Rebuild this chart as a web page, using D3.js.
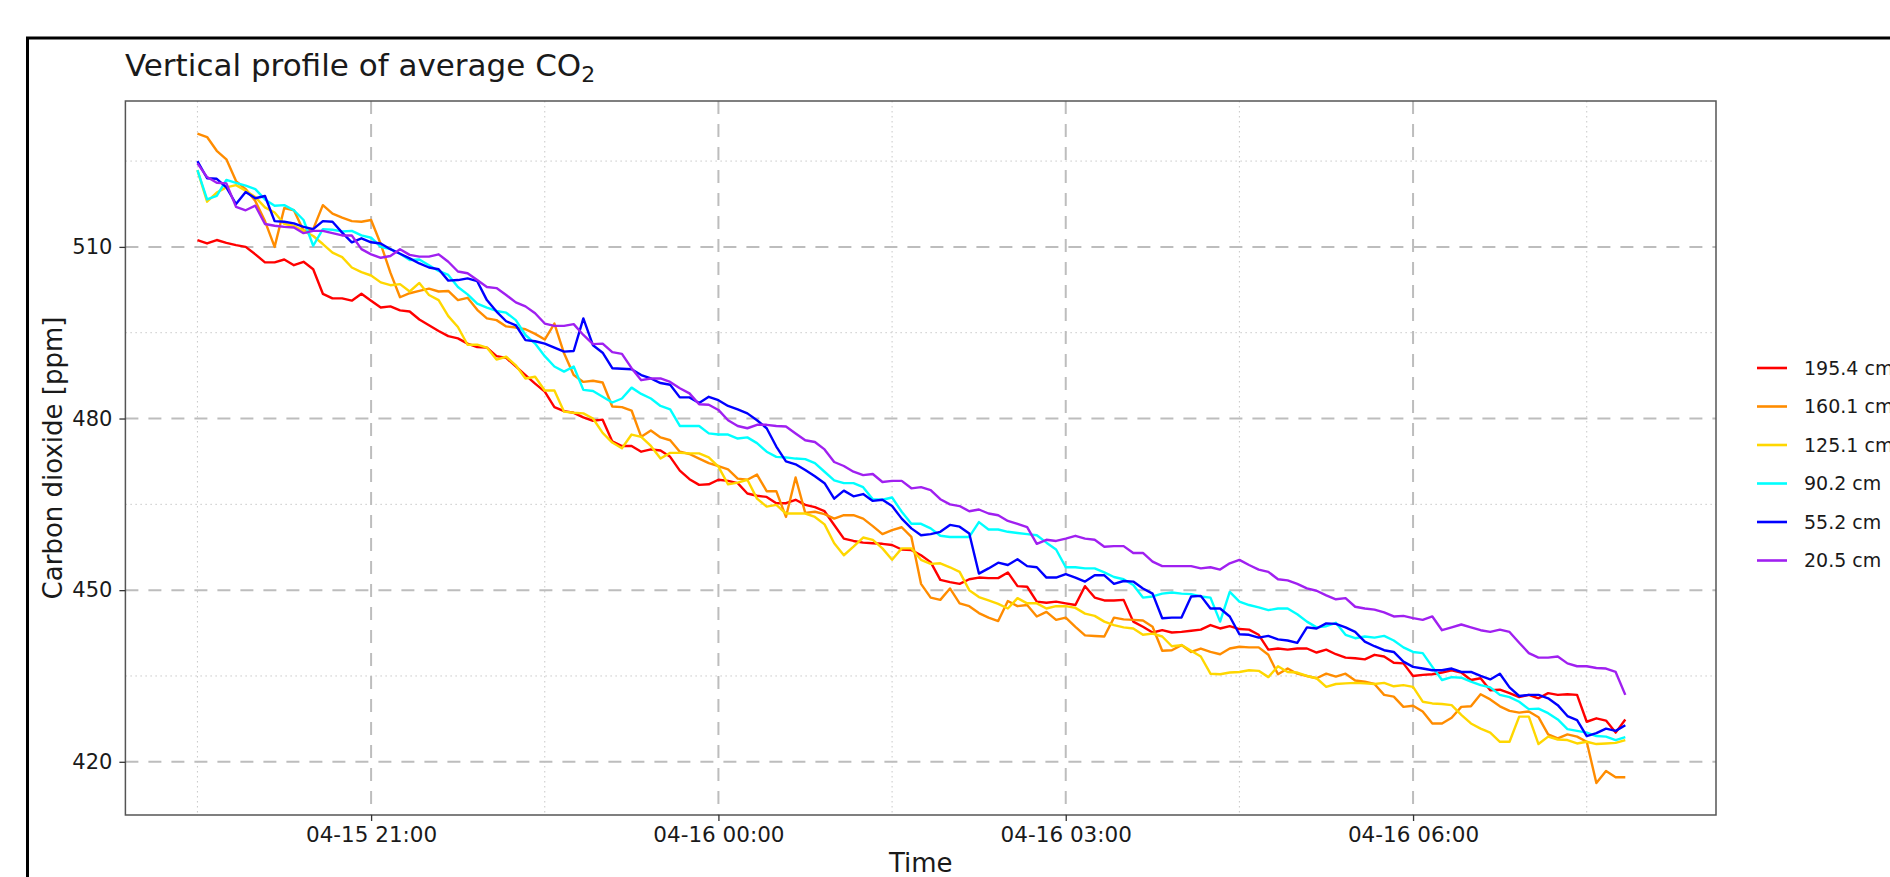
<!DOCTYPE html>
<html>
<head>
<meta charset="utf-8">
<script src="https://cdn.jsdelivr.net/npm/d3@7"></script>
<style>
  body { margin: 0; background: #fff; }
  text { font-family: "DejaVu Sans", sans-serif; fill: #1a1a1a; }
</style>
</head>
<body>
<script>
//series labels and colours (legend order)
var seriesNames = ["195.4 cm", "160.1 cm", "125.1 cm", "90.2 cm", "55.2 cm", "20.5 cm"];
var seriesColors = ["#ff0000", "#ff8c00", "#ffd700", "#00ffff", "#0000ff", "#a020f0"];

//first sample and sampling step (minutes)
var startTime = "2024-04-15T19:30:00Z";
var stepMinutes = 5;

//CO2 [ppm], one value every 5 minutes
var co2_195 = [511.2, 510.6, 511.2, 510.7, 510.3, 510.0, 508.7, 507.3, 507.3, 507.8, 506.8, 507.4, 506.1, 501.8, 501.0, 501.0, 500.6, 501.8, 500.6, 499.4, 499.6, 498.9,
    498.7, 497.3, 496.3, 495.3, 494.4, 494.0, 493.1, 492.5, 492.4, 490.9, 490.6, 489.1, 487.6, 486.1, 484.7, 482.0, 481.3, 481.0, 480.2, 479.6, 479.8, 476.0,
    475.2, 475.2, 474.2, 474.6, 474.4, 473.3, 470.9, 469.4, 468.4, 468.5, 469.3, 469.1, 468.7, 466.9, 466.5, 466.3, 465.2, 465.2, 465.8, 464.9, 464.5,
    463.8,
    461.4, 459.0, 458.6, 458.3, 458.2, 458.1, 457.9, 457.1, 457.0, 456.1, 454.9, 451.8,
    451.4, 451.1, 451.9, 452.2, 452.1, 452.1, 453.1, 450.7, 450.6,
    448.0, 447.8, 448.0, 447.7, 447.4, 450.7, 448.7, 448.2, 448.2, 448.3, 444.5, 443.6, 442.6, 443.0, 442.6, 442.7, 442.9, 443.1, 443.9, 443.3, 443.7, 443.2,
    443.1, 442.2, 439.6, 439.8, 439.6, 439.8, 439.8, 439.1, 439.6, 438.8, 438.2, 438.1, 437.9, 438.7, 438.4, 437.3, 437.2, 435.0, 435.2, 435.3, 435.6, 436.0,
    435.6, 434.3, 434.6, 432.5, 432.6, 432.0, 431.3, 431.7, 431.1, 432.0, 431.7, 431.8, 431.7, 427.0, 427.6, 427.2, 425.1, 427.4];

var co2_160 = [529.8, 529.2, 526.8, 525.3, 521.5, 520.1, 518.0, 514.5, 510.0, 516.8, 516.4, 512.8, 513.1, 517.3, 515.8, 515.1, 514.5, 514.4, 514.7,
    510.5, 505.5,
    501.2,
    501.9, 502.3, 502.7, 502.2, 502.3, 500.7, 501.1, 499.0, 497.5, 497.2, 496.1, 495.9, 495.6, 494.8, 493.8, 496.6, 491.4, 487.6, 486.4, 486.6, 486.3, 482.1,
    482.0, 481.4, 476.8, 477.9, 476.7, 476.2, 474.2, 473.8, 473.0, 472.2, 471.7, 471.1, 469.5, 469.3, 470.2, 467.3, 467.3, 462.8, 469.7, 463.5, 463.7,
    463.3,
    462.5, 463.1, 463.1, 462.5, 461.2, 459.8, 460.5, 461.0, 459.3, 451.1, 448.7, 448.3, 450.3,
    447.7, 447.2, 446.0, 445.2, 444.6, 448.1, 447.2, 447.4,
    445.4, 446.2, 444.8, 445.2, 443.6, 442.1, 442.0, 441.9, 445.2, 444.9, 444.8, 444.7, 443.6, 439.4, 439.5, 440.4, 439.2, 439.8, 439.2, 438.8, 439.8, 440.1,
    440.0, 440.0, 438.7, 435.3, 436.3, 435.4, 435.0, 434.6, 435.4, 434.9, 435.4, 434.2, 434.0, 433.6, 431.7, 431.4, 429.6, 429.8, 428.8, 426.7, 426.7, 427.7,
    429.6, 429.7, 431.8, 430.9, 429.7, 428.9, 428.6, 428.8, 427.8, 424.8, 424.1, 424.8, 424.4, 423.5, 416.3, 418.4, 417.3, 417.3];

var co2_125 = [523.4, 517.9, 519.5, 520.4, 520.8, 519.8, 518.7, 516.9, 516.0, 514.0, 513.7, 512.8, 511.9, 510.5, 509.0, 508.2, 506.4, 505.6, 505.0, 503.8, 503.3,
    503.5,
    502.2, 503.7, 501.6, 500.7, 497.9, 496.0, 492.9, 492.9, 492.4, 490.3, 490.8, 489.3, 487.0, 487.3, 484.9, 484.9, 481.2, 481.0, 480.9, 480.0, 477.5, 475.8,
    474.8, 477.2, 476.8, 475.2, 473.0, 474.0, 474.0, 473.9, 473.9, 473.2, 471.6, 468.5, 468.8, 469.3, 466.0, 464.6, 464.9, 463.4, 463.4, 463.4, 462.8,
    461.5,
    458.2, 456.1, 457.6, 459.2, 458.8, 457.3, 455.3, 457.3, 457.3, 455.3, 454.6, 454.7,
    454.0, 453.2, 450.0, 448.8, 448.2, 447.6, 446.8, 448.6, 447.7, 447.7,
    446.8, 447.2, 447.2, 446.9, 445.9, 445.5, 444.5, 443.9, 443.5, 443.3, 442.2, 442.4, 441.9, 440.2, 440.4, 439.4, 438.4, 435.4, 435.3, 435.6, 435.7,
    436.0, 435.9, 434.8, 436.7, 435.7, 435.6, 435.0, 434.6, 433.1, 433.6, 433.7, 433.8, 433.7, 433.6, 433.8, 433.2, 433.4, 433.1, 430.5, 430.2, 430.1, 429.9,
    428.2, 426.7, 425.8, 425.1, 423.5, 423.5, 427.9, 427.9, 423.1, 424.4, 423.9, 423.8, 423.2, 423.5, 423.1, 423.2, 423.3, 423.8];

var co2_90 = [523.4, 518.3, 518.9, 521.7, 521.2, 520.7, 520.1, 518.3, 517.2, 517.3, 516.4, 514.7, 510.2, 513.1, 513.0, 512.7, 512.8, 512.0, 511.6, 510.0, 509.6, 508.8,
    507.7, 507.8, 506.8, 505.8, 505.1, 503.0, 501.7, 500.1, 499.4, 498.8, 498.5, 497.2, 494.6, 493.1, 490.9, 489.1, 488.2, 489.1, 485.0, 484.8, 483.8, 482.8,
    483.5, 485.4, 484.3, 483.5, 482.2, 481.6, 478.7, 478.7, 478.7, 477.4, 477.2, 477.2, 476.5, 476.7, 475.7, 474.2, 473.3, 473.2, 473.0, 472.9, 472.2,
    470.7,
    469.2, 468.7, 468.7, 468.0, 465.9, 465.8, 466.2, 463.7, 461.6, 461.6, 460.8, 459.5, 459.3, 459.3, 459.3, 461.9, 460.6, 460.6, 460.2, 460.0, 459.8,
    459.6, 458.3, 457.1, 454.0, 454.0, 453.8, 453.8, 453.1, 452.3, 451.9, 450.9, 448.7, 448.9, 449.4, 449.6, 449.4, 449.3, 448.9, 448.7, 444.5, 449.7, 448.0,
    447.4, 447.0, 446.5, 446.8, 446.8, 445.8, 444.5, 443.5, 443.7, 444.3, 442.2, 441.6, 441.9, 441.7, 442.0, 441.2, 440.0, 439.2, 439.0, 436.6, 434.3, 434.8,
    434.7, 434.0, 433.4, 433.0, 431.7, 431.3, 430.5, 429.2, 429.3, 428.5, 427.4, 425.7, 425.4, 425.1, 424.5, 424.4, 423.8, 424.3];

var co2_55 = [525.0, 522.0, 521.9, 520.4, 517.5, 519.6, 518.5, 518.9, 514.5, 514.4, 514.1, 513.5, 513.1, 514.5, 514.4, 512.5, 510.8, 511.5, 510.8, 510.6, 509.6, 508.8,
    508.0, 507.1, 506.4, 506.1, 504.1, 504.2, 504.5, 504.0, 500.7, 498.7, 497.0, 496.3, 493.7, 493.5, 493.1, 492.4, 491.7, 491.8, 497.5, 492.8, 491.5, 488.8,
    488.7, 488.6, 487.6, 487.0, 486.2, 485.9, 483.7, 483.7, 482.7, 483.8, 483.2, 482.2, 481.6, 480.9, 479.7, 478.3, 475.1, 472.5, 472.0, 471.0, 469.9,
    468.7,
    466.0, 467.4, 466.4, 466.8, 465.6, 465.8, 464.7, 462.5, 460.8, 459.6, 459.8, 460.2, 461.4, 461.1, 459.9, 452.9, 453.8, 454.8, 454.4, 455.4, 454.2,
    454.0, 452.2, 452.2, 452.8, 452.2, 451.5, 452.6, 452.6, 451.1, 451.6, 451.5, 450.3, 449.4, 445.1, 445.2, 445.2, 448.9, 449.0, 446.8, 446.8, 445.4, 442.3,
    442.2, 441.7, 442.0, 441.4, 441.2, 440.8, 443.5, 443.3, 444.2, 444.1, 443.5, 442.7, 441.0, 440.2, 439.5, 439.2, 437.5, 436.6, 436.3, 436.0, 436.0, 436.3,
    435.7, 435.7, 435.0, 434.4, 435.4, 433.0, 431.5, 431.7, 431.7, 431.1, 429.9, 428.0, 427.3, 424.5, 425.0, 425.8, 425.4, 426.4];

var co2_20 = [524.6, 522.2, 521.2, 521.1, 517.0, 516.4, 517.2, 514.0, 513.7, 513.5, 513.4, 512.4, 512.8, 512.8, 512.4, 512.0, 512.0, 509.6, 508.7, 508.1, 508.4, 509.6,
    508.6, 508.3, 508.3, 508.7, 507.4, 505.7, 505.4, 504.2, 503.0, 502.8, 501.6, 500.3, 499.6, 498.4, 496.6, 496.2, 496.2, 496.5, 494.6, 493.0, 493.1, 491.6,
    491.3, 488.8, 486.7, 487.0, 487.0, 486.4, 485.3, 484.4, 482.5, 482.4, 481.5, 479.7, 478.7, 478.3, 478.9, 478.9, 478.7, 478.6, 477.4, 476.2, 475.9,
    474.6,
    472.4, 471.7, 470.7, 470.1, 470.3, 468.9, 469.1, 469.1, 467.8, 468.0, 467.5, 465.9, 465.0, 464.7, 463.8, 464.1, 463.4, 463.1, 462.1, 461.6, 461.0,
    458.1, 458.8, 458.6, 459.0, 459.5, 459.0, 458.8, 457.6, 457.7, 457.7, 456.5, 456.5, 455.0, 454.2, 454.2, 454.2, 454.2, 453.8, 454.0, 453.6, 454.7, 455.3,
    454.4, 453.6, 453.2, 451.9, 451.7, 451.1, 450.3, 449.9, 449.1, 448.4, 448.6, 447.1, 446.8, 446.6, 446.1, 445.4, 445.5, 445.1, 444.8, 445.4, 443.0, 443.5,
    444.0, 443.5, 443.0, 442.7, 443.1, 442.7, 440.8, 439.0, 438.2, 438.2, 438.4, 437.2, 436.7, 436.7, 436.4, 436.3, 435.7, 431.7];

var seriesValues = [co2_195, co2_160, co2_125, co2_90, co2_55, co2_20];

//axis ticks
var yMajorTicks = [420, 450, 480, 510];
var yMinorTicks = [435, 465, 495, 525];
var xMajorTicks = ["2024-04-15T21:00:00Z", "2024-04-16T00:00:00Z", "2024-04-16T03:00:00Z", "2024-04-16T06:00:00Z"];
var xMinorTicks = ["2024-04-15T19:30:00Z", "2024-04-15T22:30:00Z", "2024-04-16T01:30:00Z", "2024-04-16T04:30:00Z", "2024-04-16T07:30:00Z"];
var xDomain = ["2024-04-15T18:52:40Z", "2024-04-16T08:37:00Z"];
var yDomain = [410.7, 535.5];

window.onload = function () {
    var w = 1890, h = 877;
    //panel box
    var pl = 125.4, pt = 101, pr = 1716, pb = 815;

    var svg = d3.select("body")
        .append("svg")
        .attr("width", w)
        .attr("height", h);

    //outer black frame, runs off the right and bottom edges
    svg.append("rect")
        .attr("x", 27.5)
        .attr("y", 38)
        .attr("width", 2000)
        .attr("height", 1000)
        .style("fill", "#fff")
        .style("stroke", "#000")
        .style("stroke-width", 3);

    var x = d3.scaleUtc()
        .domain(xDomain.map(function (d) { return new Date(d); }))
        .range([pl, pr]);
    var y = d3.scaleLinear()
        .domain(yDomain)
        .range([pb, pt]);

    //minor grid (dotted)
    svg.selectAll(".xminor")
        .data(xMinorTicks)
        .enter()
        .append("line")
        .attr("x1", function (d) { return x(new Date(d)); })
        .attr("x2", function (d) { return x(new Date(d)); })
        .attr("y1", pt)
        .attr("y2", pb)
        .style("stroke", "#c8c8c8")
        .style("stroke-width", 1)
        .style("stroke-dasharray", "1.5,3.5");
    svg.selectAll(".yminor")
        .data(yMinorTicks)
        .enter()
        .append("line")
        .attr("x1", pl)
        .attr("x2", pr)
        .attr("y1", function (d) { return y(d); })
        .attr("y2", function (d) { return y(d); })
        .style("stroke", "#c8c8c8")
        .style("stroke-width", 1)
        .style("stroke-dasharray", "1.5,3.5");

    //major grid (dashed)
    svg.selectAll(".xmajor")
        .data(xMajorTicks)
        .enter()
        .append("line")
        .attr("x1", function (d) { return x(new Date(d)); })
        .attr("x2", function (d) { return x(new Date(d)); })
        .attr("y1", pt)
        .attr("y2", pb)
        .style("stroke", "#bdbdbd")
        .style("stroke-width", 2)
        .style("stroke-dasharray", "13,10");
    svg.selectAll(".ymajor")
        .data(yMajorTicks)
        .enter()
        .append("line")
        .attr("x1", pl)
        .attr("x2", pr)
        .attr("y1", function (d) { return y(d); })
        .attr("y2", function (d) { return y(d); })
        .style("stroke", "#bdbdbd")
        .style("stroke-width", 2)
        .style("stroke-dasharray", "13,10");

    //one line per height
    var t0 = new Date(startTime);
    var line = d3.line()
        .x(function (d, i) { return x(d3.utcMinute.offset(t0, i * stepMinutes)); })
        .y(function (d) { return y(d); });

    svg.selectAll(".series")
        .data(seriesValues)
        .enter()
        .append("path")
        .attr("class", "series")
        .attr("d", line)
        .style("fill", "none")
        .style("stroke", function (d, i) { return seriesColors[i]; })
        .style("stroke-width", 2.4)
        .style("stroke-linejoin", "round");

    //panel border
    svg.append("rect")
        .attr("x", pl)
        .attr("y", pt)
        .attr("width", pr - pl)
        .attr("height", pb - pt)
        .style("fill", "none")
        .style("stroke", "#555")
        .style("stroke-width", 1.5);

    //axes
    var xAxis = d3.axisBottom(x)
        .tickValues(xMajorTicks.map(function (d) { return new Date(d); }))
        .tickFormat(d3.utcFormat("%m-%d %H:%M"))
        .tickSize(6)
        .tickPadding(6);
    var gx = svg.append("g")
        .attr("transform", "translate(0," + pb + ")")
        .call(xAxis);
    gx.select(".domain").remove();
    gx.selectAll("line").style("stroke", "#333").style("stroke-width", 1.3);
    gx.selectAll("text")
        .style("font-size", "21.5px")
        .style("font-family", "DejaVu Sans")
        .style("fill", "#1a1a1a");

    var yAxis = d3.axisLeft(y)
        .tickValues(yMajorTicks)
        .tickSize(6)
        .tickPadding(7);
    var gy = svg.append("g")
        .attr("transform", "translate(" + pl + ",0)")
        .call(yAxis);
    gy.select(".domain").remove();
    gy.selectAll("line").style("stroke", "#333").style("stroke-width", 1.3);
    gy.selectAll("text")
        .style("font-size", "21px")
        .style("font-family", "DejaVu Sans")
        .style("fill", "#1a1a1a");

    //title with subscript
    var title = svg.append("text")
        .attr("x", 125)
        .attr("y", 76)
        .style("font-size", "31px")
        .text("Vertical profile of average CO");
    title.append("tspan")
        .attr("dy", 6)
        .style("font-size", "22px")
        .text("2");

    //axis titles
    svg.append("text")
        .attr("x", (pl + pr) / 2)
        .attr("y", 872)
        .attr("text-anchor", "middle")
        .style("font-size", "26px")
        .text("Time");
    svg.append("text")
        .attr("transform", "translate(61.5," + ((pt + pb) / 2) + ") rotate(-90)")
        .attr("text-anchor", "middle")
        .style("font-size", "26px")
        .text("Carbon dioxide [ppm]");

    //legend (labels run off the right edge, as in the source picture)
    var legend = svg.selectAll(".legend")
        .data(seriesNames)
        .enter()
        .append("g")
        .attr("class", "legend")
        .attr("transform", function (d, i) { return "translate(1757," + (368 + i * 38.5) + ")"; });
    legend.append("line")
        .attr("x1", 0)
        .attr("x2", 30)
        .style("stroke", function (d, i) { return seriesColors[i]; })
        .style("stroke-width", 2.6);
    legend.append("text")
        .attr("x", 47)
        .attr("dy", "0.35em")
        .style("font-size", "19px")
        .text(function (d) { return d; });
};
</script>
</body>
</html>
